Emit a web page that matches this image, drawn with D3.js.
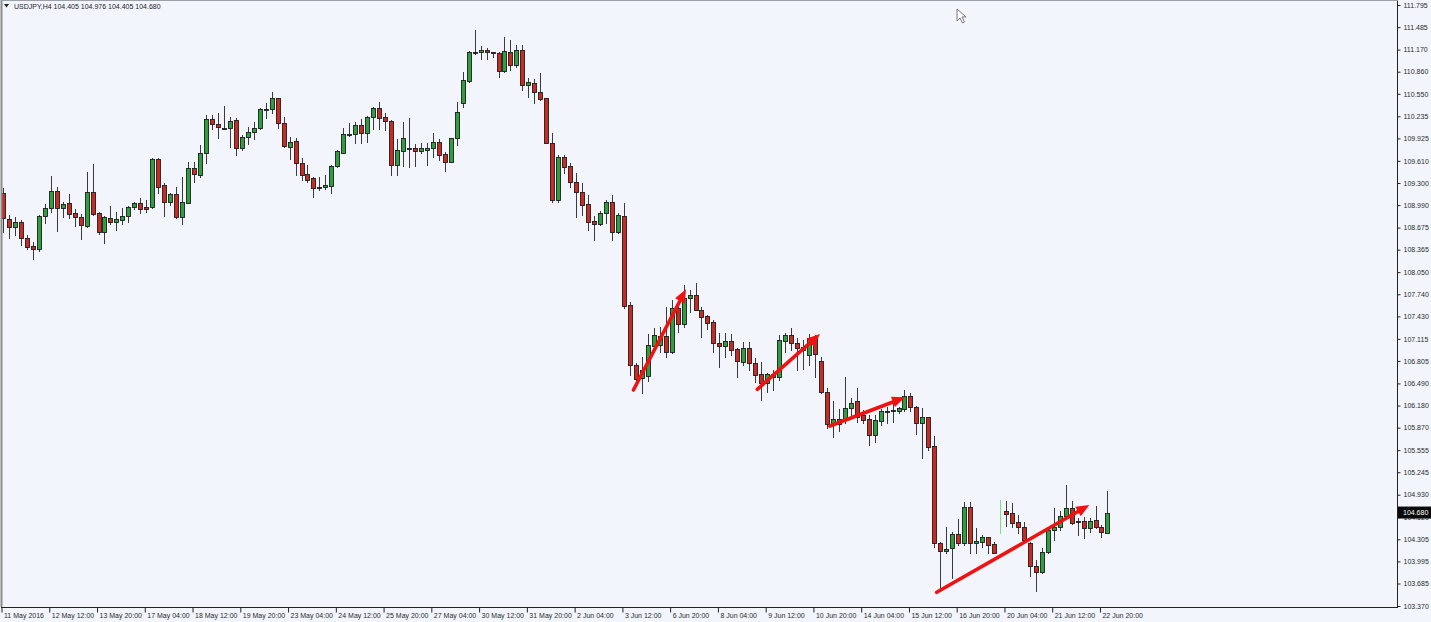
<!DOCTYPE html>
<html><head><meta charset="utf-8">
<script src="https://cdn.jsdelivr.net/npm/d3@7"></script>
<style>
html,body{margin:0;padding:0;background:#f2f6fc;}
svg{display:block;}
text{font-family:"Liberation Sans",Arial,sans-serif;}
</style></head>
<body>
<svg id="c" width="1431" height="622"></svg>
<script>
const symbolTitle = "USDJPY,H4 104.405 104.976 104.405 104.680";
const lastPriceLabel = "104.680";
const priceTicks = ["111.795","111.485","111.170","110.860","110.550","110.235","109.925","109.610","109.300","108.990","108.675","108.365","108.050","107.740","107.430","107.115","106.805","106.490","106.180","105.870","105.555","105.245","104.930","104.620","104.305","103.995","103.685","103.370"];
const timeLabels = ["11 May 2016","12 May 12:00","13 May 20:00","17 May 04:00","18 May 12:00","19 May 20:00","23 May 04:00","24 May 12:00","25 May 20:00","27 May 04:00","30 May 12:00","31 May 20:00","2 Jun 04:00","3 Jun 12:00","6 Jun 20:00","8 Jun 04:00","9 Jun 12:00","10 Jun 20:00","14 Jun 04:00","15 Jun 12:00","16 Jun 20:00","20 Jun 04:00","21 Jun 12:00","22 Jun 20:00"];
const barsPerLabel = 8;

const opens = [109.159,108.795,108.683,108.753,108.528,108.416,108.374,108.837,108.949,109.187,108.949,109.019,108.879,108.823,108.697,109.173,108.879,108.612,108.809,108.753,108.781,108.837,108.963,109.019,108.963,108.963,109.636,109.271,109.033,109.145,108.823,109.019,109.510,109.412,109.720,110.197,110.127,110.071,110.071,110.183,109.790,109.944,110.015,110.071,110.337,110.337,110.491,110.141,109.804,109.888,109.580,109.426,109.369,109.243,109.243,109.257,109.538,109.720,109.986,109.986,110.113,110.001,110.225,110.351,110.225,110.169,109.552,109.748,109.790,109.790,109.748,109.762,109.790,109.874,109.706,109.594,109.930,110.421,110.729,111.136,111.136,111.164,111.136,111.122,110.870,111.136,110.954,111.164,110.673,110.701,110.575,110.491,109.860,109.061,109.664,109.538,109.313,109.173,109.005,108.767,108.725,108.879,109.033,108.612,108.837,107.589,106.748,106.566,106.594,107.014,107.028,107.155,106.930,107.547,107.323,107.687,107.729,107.519,107.435,107.351,107.056,107.014,107.084,106.972,106.790,106.986,106.776,106.622,106.496,106.580,106.580,107.084,107.169,107.056,107.000,106.888,107.126,106.804,106.370,105.921,105.921,105.977,106.145,106.243,106.047,105.991,105.767,105.963,106.103,106.117,106.103,106.131,106.313,106.159,105.935,106.019,105.612,104.253,104.140,104.183,104.379,104.253,104.757,104.253,104.267,104.337,104.239,104.687,104.701,104.673,104.547,104.477,104.253,103.930,103.846,104.127,104.435,104.477,104.631,104.743,104.561,104.561,104.463,104.575,104.477,104.405];
const highs = [109.229,108.851,108.823,108.781,108.571,108.472,108.851,109.005,109.397,109.243,109.033,109.145,108.935,108.865,109.454,109.566,108.893,108.837,108.977,108.893,108.949,108.977,109.033,109.089,109.061,109.650,109.650,109.299,109.159,109.243,109.383,109.594,109.594,109.832,110.253,110.253,110.281,110.379,110.225,110.211,109.972,110.085,110.155,110.351,110.421,110.575,110.491,110.225,109.944,109.930,109.650,109.552,109.383,109.383,109.412,109.552,109.762,110.071,110.141,110.155,110.197,110.239,110.365,110.435,110.281,110.183,109.916,110.155,110.211,109.846,109.860,109.860,110.001,109.916,109.734,109.930,110.435,110.856,111.150,111.444,111.220,111.192,111.136,111.136,111.346,111.304,111.234,111.234,110.772,110.758,110.842,110.491,110.001,109.692,109.692,109.580,109.440,109.299,109.131,108.837,108.907,109.061,109.131,108.879,109.019,107.631,106.776,106.860,107.183,107.267,107.281,107.561,107.659,107.589,107.869,107.799,107.897,107.561,107.449,107.379,107.197,107.197,107.183,106.986,107.070,107.070,106.846,106.790,106.636,106.678,107.169,107.197,107.267,107.126,107.098,107.183,107.169,106.860,106.426,106.243,106.131,106.580,106.285,106.426,106.117,106.047,106.047,106.131,106.159,106.215,106.159,106.397,106.355,106.173,106.145,106.019,105.753,104.267,104.477,104.407,104.589,104.827,104.827,104.463,104.365,104.337,104.267,104.855,104.841,104.813,104.645,104.547,104.267,104.014,104.183,104.477,104.743,104.701,105.066,104.841,104.603,104.617,104.603,104.771,104.505,104.976];
const lows = [108.612,108.528,108.571,108.430,108.374,108.234,108.346,108.739,108.893,108.627,108.823,108.809,108.697,108.515,108.683,108.851,108.584,108.458,108.725,108.641,108.725,108.753,108.935,108.879,108.893,108.949,109.159,108.837,108.991,108.809,108.725,109.019,109.313,109.383,109.580,110.057,109.930,110.057,109.804,109.692,109.762,109.846,109.916,110.057,110.211,110.281,110.071,109.804,109.636,109.412,109.341,109.313,109.103,109.201,109.215,109.159,109.524,109.720,109.958,109.860,109.860,109.874,110.057,110.057,110.043,109.412,109.412,109.538,109.524,109.538,109.720,109.552,109.664,109.622,109.468,109.594,109.832,110.365,110.715,111.108,111.038,111.038,111.066,110.786,110.856,110.884,110.926,110.603,110.505,110.421,110.463,109.860,109.033,109.033,109.440,109.243,108.823,108.851,108.641,108.500,108.711,108.739,108.500,108.598,107.547,106.608,106.496,106.355,106.524,106.930,106.930,106.860,106.916,107.211,107.281,107.491,107.519,107.141,107.253,106.930,106.720,106.860,106.888,106.580,106.748,106.678,106.510,106.257,106.369,106.397,106.538,106.930,106.958,106.678,106.692,106.748,106.580,106.355,105.865,105.739,105.823,105.935,106.047,105.949,105.935,105.627,105.669,105.907,105.935,105.949,106.075,106.103,106.103,105.781,105.444,105.556,104.197,103.594,104.112,103.762,104.225,104.225,104.112,104.112,104.197,104.112,104.112,104.393,104.491,104.477,104.393,104.267,103.790,103.580,103.832,104.112,104.295,104.435,104.603,104.519,104.365,104.323,104.407,104.463,104.337,104.405];
const closes = [108.809,108.683,108.753,108.528,108.402,108.374,108.837,108.949,109.187,108.949,109.005,108.865,108.823,108.711,109.173,108.865,108.612,108.823,108.753,108.795,108.837,108.963,109.019,108.935,108.935,109.636,109.243,109.033,109.145,108.823,109.033,109.510,109.426,109.720,110.197,110.127,110.085,110.071,110.169,109.790,109.944,110.015,110.071,110.337,110.337,110.491,110.141,109.818,109.874,109.580,109.412,109.341,109.229,109.243,109.271,109.538,109.748,109.986,109.986,110.113,110.001,110.225,110.351,110.211,110.169,109.552,109.762,109.930,109.790,109.748,109.790,109.790,109.874,109.692,109.594,109.930,110.295,110.743,111.136,111.122,111.164,111.136,111.122,110.870,111.150,110.954,111.164,110.673,110.715,110.575,110.477,109.860,109.061,109.664,109.524,109.313,109.173,108.991,108.753,108.725,108.879,109.033,108.612,108.851,107.575,106.748,106.552,106.678,107.028,107.169,107.155,106.930,107.547,107.323,107.687,107.729,107.519,107.421,107.337,107.056,107.014,107.084,106.958,106.804,106.986,106.776,106.608,106.496,106.622,106.622,107.098,107.169,107.056,106.986,106.958,107.126,106.902,106.370,105.921,105.991,105.991,106.145,106.215,106.019,105.977,105.767,105.977,106.103,106.103,106.117,106.145,106.313,106.159,105.935,106.019,105.598,104.253,104.140,104.169,104.379,104.253,104.757,104.253,104.281,104.337,104.225,104.112,104.687,104.659,104.533,104.477,104.295,103.930,103.846,104.127,104.435,104.477,104.631,104.743,104.533,104.561,104.463,104.561,104.477,104.407,104.680];
const highlightedBar = 167;

// red arrow annotations: [barIndexStart, priceStart, barIndexEnd, priceEnd]
const arrowStarts = [[105.6,106.398],[126.35,106.407],[138.5,105.893],[156.4,103.562]];
const arrowEnds   = [[114.4,107.809],[136.85,107.183],[151.1,106.295],[181.96,104.785]];
const cursorAt = [159.8, 111.739];

const W = 1431, H = 622;
const axisX = 1397, axisY = 607;
const n = opens.length;
const svg = d3.select("#c");
svg.append("rect").attr("width",W).attr("height",H).attr("fill","#f2f6fc");

const x = d3.scaleLinear().domain([0, n-1]).range([3, 3 + 5.97*(n-1)]);
const y = d3.scaleLinear().domain([103.370, 111.795]).range([606, 5]);

const bars = d3.range(n).map(i => ({i, o:opens[i], h:highs[i], l:lows[i], c:closes[i]}));

const plot = svg.append("g");
const cx = d => Math.round(x(d.i)) + 0.5;

// wicks
plot.selectAll("line.w").data(bars).join("line")
  .attr("x1", cx).attr("x2", cx)
  .attr("y1", d => Math.round(y(d.h))).attr("y2", d => Math.round(y(d.l)) + 1)
  .attr("stroke", d => d.i === highlightedBar ? "#7fe07f" : "#3a3a3a")
  .attr("stroke-width", 1);

// bodies
plot.selectAll("rect.b").data(bars.filter(d => d.i !== highlightedBar)).join("rect")
  .attr("x", d => Math.round(x(d.i)) - 1.5)
  .attr("width", 4)
  .attr("y", d => Math.round(y(Math.max(d.o, d.c))) + 0.5)
  .attr("height", d => Math.max(1, Math.round(Math.abs(y(d.o) - y(d.c)))))
  .attr("fill", d => d.c > d.o ? "#2f9e3c" : (d.c < d.o ? "#c92b22" : "#6a6a6a"))
  .attr("stroke", "#1e1e1e").attr("stroke-width", 0.9);

// arrows
const arrowColor = "#f21111";
arrowStarts.forEach((s, k) => {
  const e = arrowEnds[k];
  const x0 = x(s[0]), y0 = y(s[1]), x1 = x(e[0]), y1 = y(e[1]);
  const ang = Math.atan2(y1 - y0, x1 - x0);
  const hl = 13, hw = 5.5;
  const bx = x1 - hl*Math.cos(ang), by = y1 - hl*Math.sin(ang);
  svg.append("line").attr("x1",x0).attr("y1",y0).attr("x2",bx).attr("y2",by)
    .attr("stroke",arrowColor).attr("stroke-width",3.6).attr("stroke-linecap","round");
  const px = -Math.sin(ang), py = Math.cos(ang);
  svg.append("path")
    .attr("d", `M${x1},${y1}L${bx+px*hw},${by+py*hw}L${bx-px*hw},${by-py*hw}Z`)
    .attr("fill", arrowColor);
});

// frame
svg.append("line").attr("x1",1.5).attr("x2",1.5).attr("y1",0).attr("y2",axisY).attr("stroke","#8a8a8a").attr("stroke-width",2);
svg.append("line").attr("x1",axisX+0.5).attr("x2",axisX+0.5).attr("y1",0).attr("y2",axisY+0.5).attr("stroke","#222").attr("stroke-width",1);
svg.append("line").attr("x1",1).attr("x2",axisX+1).attr("y1",axisY+0.5).attr("y2",axisY+0.5).attr("stroke","#222").attr("stroke-width",1);
svg.append("line").attr("x1",1).attr("x2",axisX+1).attr("y1",0.5).attr("y2",0.5).attr("stroke","#9aa0a8").attr("stroke-width",1);

// price axis
const yAxis = d3.axisRight(y)
  .tickValues(priceTicks.map(Number))
  .tickFormat((d, i) => priceTicks[i])
  .tickSize(3).tickPadding(3);
const ga = svg.append("g").attr("transform", `translate(${axisX + 0.5},0)`).call(yAxis);
ga.select(".domain").remove();
ga.selectAll(".tick line").attr("stroke","#222");
ga.selectAll(".tick text").attr("font-size","7px").attr("fill","#2a2a2a").attr("font-family","Liberation Sans, Arial, sans-serif");

// time axis
const xAxis = d3.axisBottom(x)
  .tickValues(timeLabels.map((t, k) => k*barsPerLabel))
  .tickFormat((d, k) => timeLabels[k])
  .tickSize(5).tickPadding(1);
const gx = svg.append("g").attr("transform", `translate(-1.5,${axisY + 0.5})`).call(xAxis);
gx.select(".domain").remove();
gx.selectAll(".tick line").attr("stroke","#222");
gx.selectAll(".tick text").attr("font-size","7px").attr("fill","#2a2a2a")
  .attr("text-anchor","start").attr("x",2).attr("font-family","Liberation Sans, Arial, sans-serif");

// current price label
const ly = y(closes[n-1]);
svg.append("rect").attr("x",axisX+1).attr("y",ly-6).attr("width",W-axisX-1).attr("height",12).attr("fill","#0a0a0a");
svg.append("text").attr("x",axisX+6).attr("y",ly+2.5).attr("font-size","7px").attr("fill","#fff").text(lastPriceLabel);

// title
svg.append("path").attr("d","M4,4L9,4L6.5,7.5Z").attr("fill","#222");
svg.append("text").attr("x",14).attr("y",9).attr("font-size","7px").attr("fill","#222").text(symbolTitle);

// mouse cursor
const mx = x(cursorAt[0]), my = y(cursorAt[1]);
svg.append("path")
  .attr("d", `M${mx},${my}l0,12l3,-3l2.5,5l2,-1l-2.5,-5l4,0Z`)
  .attr("fill","#fff").attr("stroke","#666").attr("stroke-width",0.9);
</script>
</body></html>
